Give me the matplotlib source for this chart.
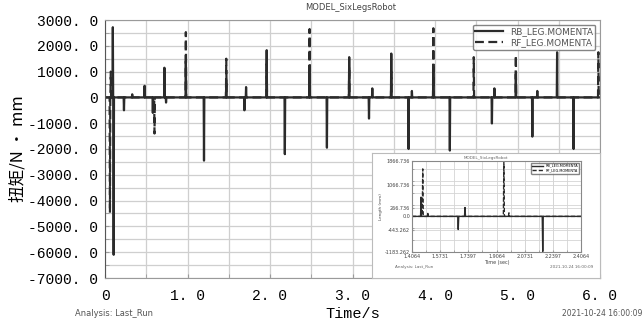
import matplotlib
matplotlib.use('Agg')
import matplotlib.pyplot as plt
import numpy as np

# main chart: spike times (s) and peak torque (N*mm)
rb_t = [0.095, 0.105, 0.23, 0.33, 0.48, 0.58, 0.72, 0.74, 0.98, 1.20, 1.47, 1.69, 1.71,
        1.96, 2.18, 2.48, 2.69, 2.96, 3.20, 3.24, 3.47, 3.68, 3.72, 3.98, 4.18,
        4.69, 4.72, 4.98, 5.18, 5.24, 5.48, 5.68]
rb_v = [2720, -6100, -500, 120, 450, -600, 1150, -200, 1400, -2450, 700, -500, 400,
        1830, -2200, 1000, -1950, 1560, -820, 350, 1700, -2000, 250, 1200, -2060,
        -1010, 350, 900, -1520, 250, 1750, -2000]
rf_t = [0.06, 0.07, 0.60, 0.98, 1.47, 1.96, 2.48, 2.96, 3.47, 3.98, 4.47, 4.98, 5.98]
rf_v = [-4470, 1000, -1400, 2530, 1500, 1300, 2650, 1200, 1000, 2680, 1560, 1630, 1750]

yticks = [3000, 2000, 1000, 0, -1000, -2000, -3000, -4000, -5000, -6000, -7000]
ytick_labels = ['3000. 0', '2000. 0', '1000. 0', '0', '-1000. 0', '-2000. 0', '-3000. 0',
                '-4000. 0', '-5000. 0', '-6000. 0', '-7000. 0']
xticks = [0, 1, 2, 3, 4, 5, 6]
xtick_labels = ['0', '1. 0', '2. 0', '3. 0', '4. 0', '5. 0', '6. 0']

# inset chart (zoom of 1.4 - 2.4 s)
in_rb_t = [1.46, 1.50, 1.68, 1.72, 2.18]
in_rb_v = [650, 100, -443, 300, -1183]
in_rf_t = [1.47, 1.95, 1.98]
in_rf_v = [1600, 1866, 120]
in_yticks = [1866.736, 1066.736, 266.736, 0.0, -443.262, -1183.262]
in_xticks = [1.4064, 1.5731, 1.7397, 1.9064, 2.0731, 2.2397, 2.4064]


def spikes(ts, vs, t0, t1, w):
    x, y = [t0], [0]
    for t, v in zip(ts, vs):
        x += [t - w, t, t + w]
        y += [0, v, 0]
    x.append(t1)
    y.append(0)
    return x, y


W, H = 644, 327


def box(l, t, r, b):
    return [l / W, 1 - b / H, (r - l) / W, (b - t) / H]


fig = plt.figure(figsize=(6.44, 3.27), dpi=100)
mono = 'Liberation Mono'
grey = '#9a9a9a'
ink = '#2b2b2b'

ax = fig.add_axes(box(105, 20, 600, 278))
x, y = spikes(rb_t, rb_v, 0, 6, 0.004)
ax.plot(x, y, color=ink, lw=1.6, label='RB_LEG.MOMENTA')
x, y = spikes(rf_t, rf_v, 0, 6, 0.004)
ax.plot(x, y, color=ink, lw=1.6, ls=(0, (4, 2)), label='RF_LEG.MOMENTA')
ax.set_xlim(0, 6)
ax.set_ylim(-7000, 3000)
ax.set_xticks(xticks)
ax.set_xticklabels(xtick_labels, fontfamily=mono, fontsize=10.5)
ax.set_yticks(yticks)
ax.set_yticklabels(ytick_labels, fontfamily=mono, fontsize=10.5)
ax.set_xticks(np.arange(0, 6.01, 0.5), minor=True)
ax.set_yticks(np.arange(-7000, 3001, 500), minor=True)
ax.grid(True, which='both', color='#cfcfcf', lw=0.9)
ax.tick_params(which='both', direction='in', length=3, color=grey)
ax.tick_params(axis='x', pad=8)
ax.tick_params(axis='y', pad=5)
for s in ax.spines.values():
    s.set_color(grey)
ax.spines['left'].set_color('#555555')
ax.set_xlabel('Time/s', fontfamily=mono, fontsize=11, labelpad=3)
ax.set_ylabel('扭矩/N • mm', fontfamily=['Noto Sans CJK SC', 'DejaVu Sans'], fontsize=12)
ax.yaxis.set_label_coords(-0.158, 0.5)
leg = ax.legend(loc='upper right', fontsize=6.5, frameon=True, handlelength=3,
                borderpad=0.3, labelspacing=0.2, fancybox=True, edgecolor='#666666')
for t in leg.get_texts():
    t.set_color('#555555')

fig.text(351 / W, 1 - 8 / H, 'MODEL_SixLegsRobot', ha='center', va='center', fontsize=6, color='#444444')
fig.text(75 / W, 1 - 313 / H, 'Analysis: Last_Run', ha='left', va='center', fontsize=6, color='#555555')
fig.text(642 / W, 1 - 313 / H, '2021-10-24 16:00:09', ha='right', va='center', fontsize=5.5, color='#555555')

# inset panel
panel = fig.add_axes(box(372, 153, 600, 278))
panel.set_xticks([])
panel.set_yticks([])
for s in panel.spines.values():
    s.set_color('#bbbbbb')
panel.text(0.5, 0.975, 'MODEL_SixLegsRobot', transform=panel.transAxes, ha='center', va='top', fontsize=3, color='#666666')
panel.text(0.1, 0.09, 'Analysis: Last_Run', transform=panel.transAxes, ha='left', va='center', fontsize=3, color='#666666')
panel.text(0.97, 0.09, '2021-10-24 16:00:09', transform=panel.transAxes, ha='right', va='center', fontsize=3, color='#666666')

ins = fig.add_axes(box(412, 161, 581, 252))
x, y = spikes(in_rb_t, in_rb_v, 1.4064, 2.4064, 0.003)
ins.plot(x, y, color=ink, lw=1.0, label='RB_LEG.MOMENTA')
x, y = spikes(in_rf_t, in_rf_v, 1.4064, 2.4064, 0.003)
ins.plot(x, y, color=ink, lw=1.0, ls=(0, (3, 1.5)), label='RF_LEG.MOMENTA')
ins.set_xlim(1.4064, 2.4064)
ins.set_ylim(-1183.262, 1866.736)
ins.set_xticks(in_xticks)
ins.set_xticklabels(['%.4f' % v for v in in_xticks], fontsize=3.5, color='#444444')
ins.set_yticks(in_yticks)
ins.set_yticklabels(['%.3f' % v if v != 0 else '0.0' for v in in_yticks], fontsize=3.5, color='#444444')
ins.set_xticks(np.arange(1.4064, 2.41, 1 / 12), minor=True)
ins.set_yticks(np.arange(-1200, 1900, 400), minor=True)
ins.grid(True, which='both', color='#d5d5d5', lw=0.6)
ins.tick_params(which='both', direction='in', length=1.5, pad=1.5, color=grey)
for s in ins.spines.values():
    s.set_color('#888888')
ins.set_xlabel('Time (sec)', fontsize=3.5, labelpad=1, color='#444444')
ins.set_ylabel('Length (mm)', fontsize=3, labelpad=1, color='#444444')
ins.legend(loc='upper right', fontsize=2.5, handlelength=3, borderpad=0.3, labelspacing=0.2,
           edgecolor='#666666')

fig.savefig('out.png', dpi=100)
